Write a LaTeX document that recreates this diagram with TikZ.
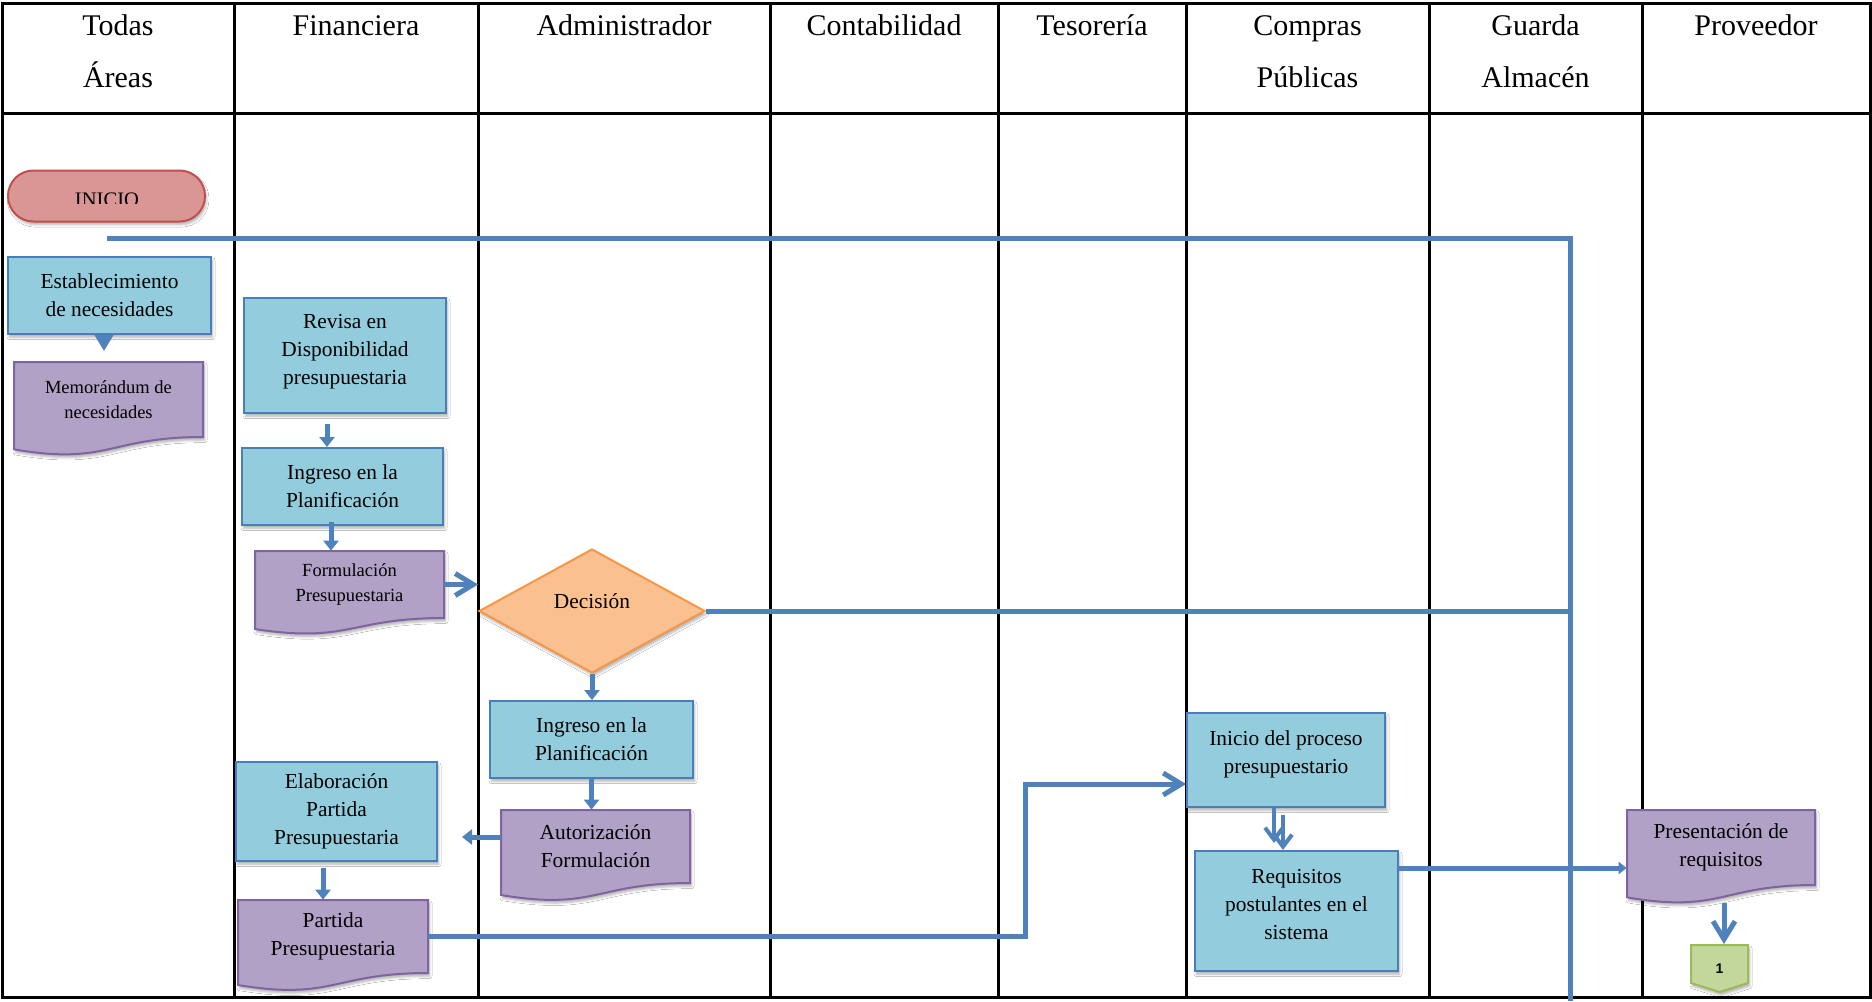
\documentclass[tikz,border=0pt]{standalone}
\usepackage{fontspec}
\setmainfont{Liberation Serif}
\newfontfamily\arialf{Liberation Sans}
\usetikzlibrary{arrows.meta,shapes.geometric,shadows.blur,calc}

\definecolor{lineblue}{HTML}{4F81BD}
\definecolor{boxfill}{HTML}{93CDDD}
\definecolor{boxedge}{HTML}{4A7EBB}
\definecolor{docfill}{HTML}{B2A1C7}
\definecolor{docedge}{HTML}{8064A2}
\definecolor{decfill}{HTML}{FAC090}
\definecolor{decedge}{HTML}{F79646}
\definecolor{startfill}{HTML}{D99694}
\definecolor{startedge}{HTML}{C0504D}
\definecolor{conffill}{HTML}{C3D69B}
\definecolor{conedge}{HTML}{9BBB59}

\tikzset{
  grid/.style={line width=1.5pt, draw=black},
  hdr/.style={font=\fontsize{15}{18}\selectfont, anchor=base, inner sep=0pt},
  shad/.style={blur shadow={shadow xshift=0.8pt, shadow yshift=-1.6pt, shadow blur radius=1.2pt, shadow opacity=30}},
  procbox/.style={draw=boxedge, fill=boxfill, line width=1pt, inner sep=0pt, shad},
  proctext/.style={align=center, inner sep=0pt, font=\fontsize{10.7}{14}\selectfont},
  docbody/.style={inner sep=0pt, align=center, font=\fontsize{10.7}{14}\selectfont},
  docsmall/.style={font=\fontsize{9.25}{12.25}\selectfont},
  docpath/.style={draw=docedge, fill=docfill, line width=1pt, shad},
  flow/.style={draw=lineblue, line width=2.5pt},
  blockarrow/.style={flow, -{Triangle[width=7.5pt,length=5pt]}},
  barbarrow/.style={flow, -{Straight Barb[length=9pt,width=11pt]}},
  smallbarb/.style={flow, line width=2pt, -{Straight Barb[length=6pt,width=9pt]}},
  smalltri/.style={flow, -{Triangle[width=6pt,length=4pt]}},
}

% [text shift up in pt]{name}{x1}{y1}{x2}{y2}{text}
\newcommand\procnode[7][0]{%
  \node[procbox, minimum width={(#5-#3)*0.5pt}, minimum height={(#6-#4)*0.5pt}] (#2) at ({(#3+#5)/2},{(#4+#6)/2}) {};
  \node[proctext, yshift=#1pt] (#2-txt) at (#2.center) {#7};}

\newcommand\docnode[7][]{%
  \path[docpath] (#3,#4) -- (#5,#4) -- (#5,#6) .. controls ({(#3+#5)/2},#6) and ({(#3+#5)/2},{#6+0.381*(#6-#4)}) .. (#3,{#6+0.1646*(#6-#4)}) -- cycle;
  \node[docbody,#1, minimum width={(#5-#3)*0.5pt}, minimum height={(#6-#4)*0.5pt}] (#2) at ({(#3+#5)/2},{(#4+#6)/2}) {#7};}

\begin{document}
\begin{tikzpicture}[x=0.5pt, y=-0.5pt, line join=miter]
\useasboundingbox (0,0) rectangle (1872,1001);
\fill[white] (0,0) rectangle (1872,1001);

% table
\draw[grid] (2,3) rectangle (1870,997);
\draw[grid] (2,113) -- (1870,113);
\foreach \cx in {234,478,770,998,1186,1429,1642} {\draw[grid] (\cx,3) -- (\cx,997);}

% headers
\node[hdr] (h1a) at (118,35) {Todas};
\node[hdr] (h1b) at (118,87) {Áreas};
\node[hdr] (h2) at (356,35) {Financiera};
\node[hdr] (h3) at (624,35) {Administrador};
\node[hdr] (h4) at (884,35) {Contabilidad};
\node[hdr] (h5) at (1092,35) {Tesorería};
\node[hdr] (h6a) at (1307.5,35) {Compras};
\node[hdr] (h6b) at (1307.5,87) {Públicas};
\node[hdr] (h7a) at (1535.5,35) {Guarda};
\node[hdr] (h7b) at (1535.5,87) {Almacén};
\node[hdr] (h8) at (1756,35) {Proveedor};

% INICIO
\node[draw=startedge, fill=startfill, line width=1pt, minimum width=98.5pt, minimum height=25.5pt, rounded corners=12.7pt, shad] (inicio) at (106.5,196) {};
\begin{scope}
  \clip (8,170) rectangle (205,203);
  \node[font=\fontsize{10.3}{12}\selectfont, anchor=base, inner sep=0pt] (iniciotxt) at (107,206.5) {INICIO};
\end{scope}

% process boxes
\procnode{estab}{8}{257}{211}{334}{Establecimiento\\de necesidades}
\procnode[2]{revisa}{244}{298}{446}{413}{Revisa en\\Disponibilidad\\presupuestaria}
\procnode{ingf}{242}{448}{443}{525}{Ingreso en la\\Planificación}
\procnode{inga}{490}{701}{693}{778}{Ingreso en la\\Planificación}
\procnode{elab}{236}{762}{437}{861}{Elaboración\\Partida\\Presupuestaria}
\procnode[3]{inip}{1187}{713}{1385}{807}{Inicio del proceso\\presupuestario}
\procnode[3]{req}{1195}{851}{1398}{971}{Requisitos\\postulantes en el\\sistema}

% documents
\docnode[docsmall]{memo}{14}{362}{203}{437}{Memorándum de\\necesidades}
\docnode[docsmall]{form}{255}{551}{444}{618}{Formulación\\Presupuestaria}
\docnode{auto}{501}{810}{690}{883}{Autorización\\Formulación}
\docnode{part}{238}{900}{428}{973}{Partida\\Presupuestaria}
\docnode{pres}{1627}{810}{1815}{885}{Presentación de\\requisitos}

% decision
\node[diamond, draw=decedge, fill=decfill, line width=1pt, minimum width=113pt, minimum height=62pt, inner sep=0pt, shad] (dec) at (592,611) {};
\node[proctext, yshift=5pt] (dec-txt) at (dec.center) {Decisión};

% off-page connector
\path[draw=conedge, fill=conffill, line width=1pt, shad] (1691,945) -- (1748,945) -- (1748,983) -- (1719.5,992) -- (1691,983) -- cycle;
\node[font=\arialf\bfseries\fontsize{7}{8}\selectfont, inner sep=0pt] (conn1) at (1719.5,969) {1};
\coordinate (conntop) at (1719.5,944);

% connectors
\coordinate (s0) at (107,238);
\coordinate (s1) at (1570,238);
\coordinate (s2) at (1570,1001);
\draw[flow] (s0) -- (s1) -- (s2);
\draw[flow] (dec.east) -- (dec.east -| s1);

\coordinate (memoin) at (104,351);
\draw[flow, -{Triangle[width=9pt,length=8pt]}] (estab.south -| memoin) -- (memoin);

\coordinate (c2) at (327,424);
\draw[blockarrow] (c2) -- (c2 |- ingf.north);

\coordinate (c3) at (331,522);
\draw[blockarrow] (c3) -- (c3 |- form.north);

\draw[barbarrow] (form.east) -- (form.east -| dec.west);

\draw[blockarrow] (dec.south) -- (dec.south |- inga.north);
\draw[blockarrow] (inga.south) -- (inga.south |- auto.north);

\coordinate (c7) at (462,837);
\draw[blockarrow] (auto.west |- c7) -- (c7);

\coordinate (c8) at (323,868);
\draw[blockarrow] (c8) -- (c8 |- part.north);

\coordinate (c9) at (1025,784);
\draw[barbarrow] (part.east) -| (c9) -- (c9 -| inip.west);

\coordinate (c10a) at (1274,843);
\draw[smallbarb] (inip.south -| c10a) -- (c10a);
\coordinate (c10b) at (1283,815);
\draw[smallbarb] (c10b) -- (c10b |- req.north);

\coordinate (c11) at (1500,868);
\draw[smalltri] (req.east |- c11) -- (pres.west |- c11);

\coordinate (c12) at (1724,903);
\draw[barbarrow] (c12) -- (c12 |- conntop);
\end{tikzpicture}
\end{document}
